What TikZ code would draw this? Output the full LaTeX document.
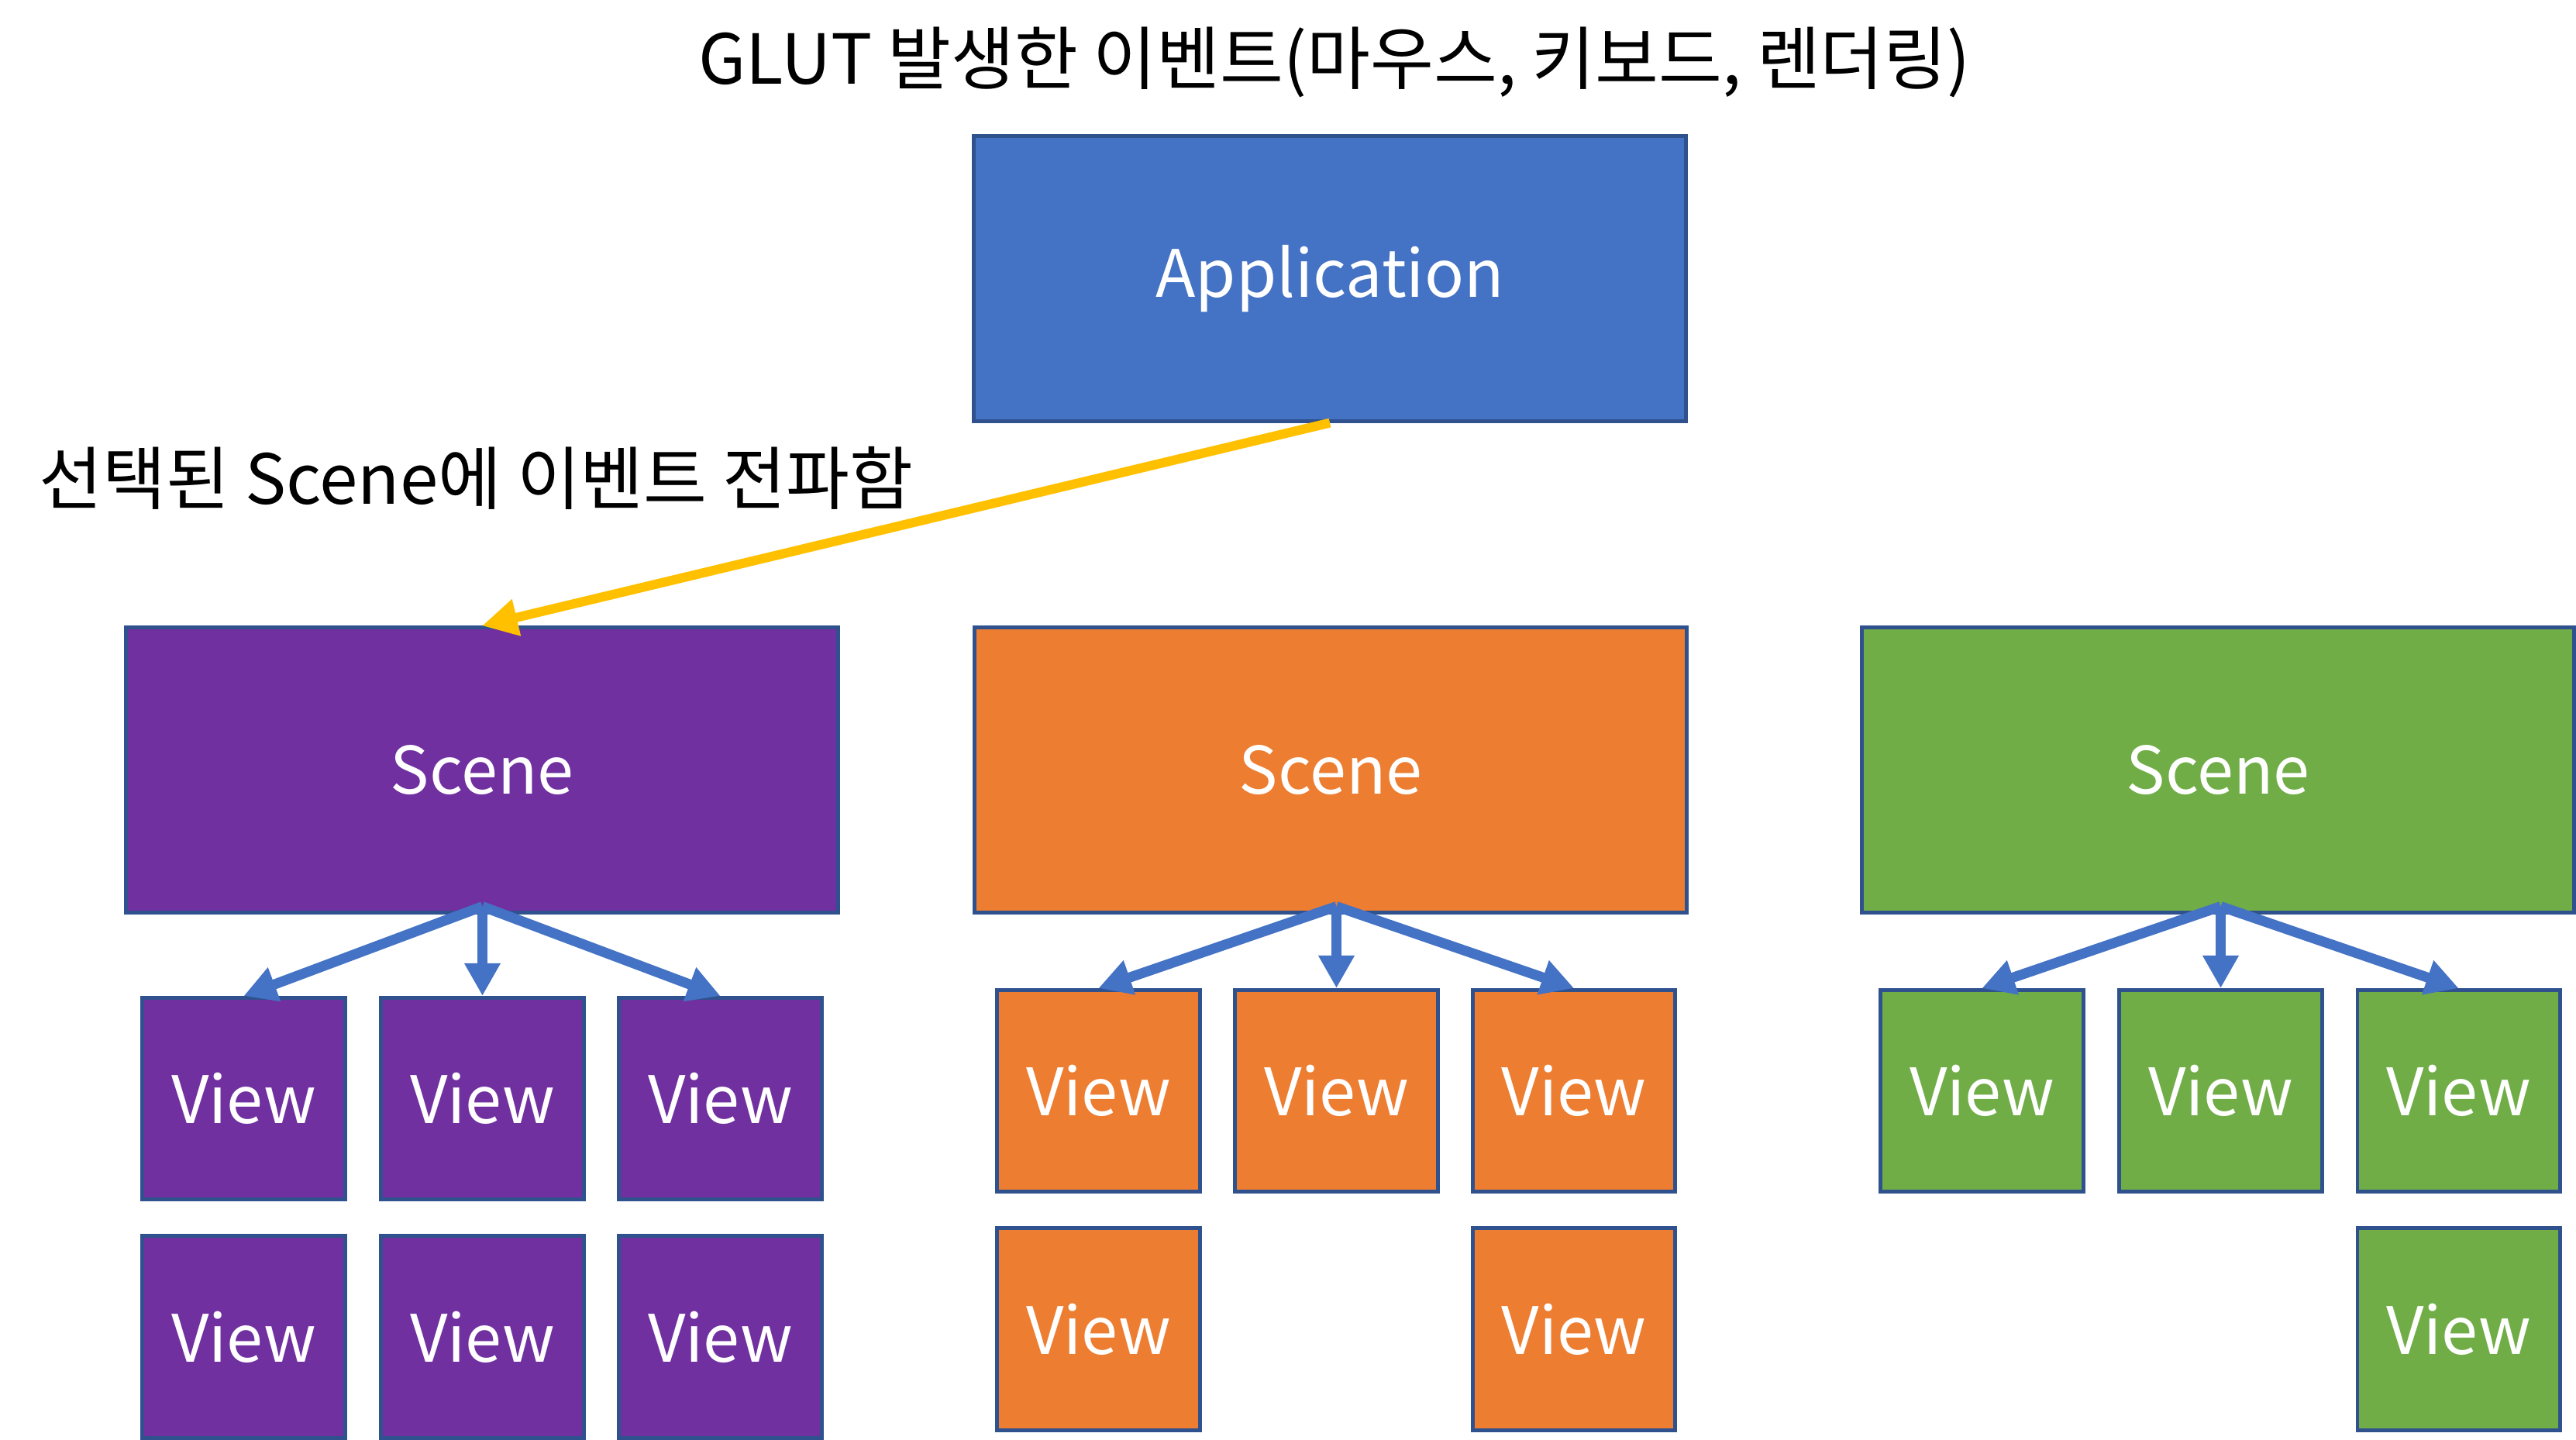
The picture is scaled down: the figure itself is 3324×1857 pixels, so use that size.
\documentclass[tikz,border=0pt]{standalone}
\usepackage{fontspec}
\setmainfont{Noto Sans CJK KR}
\usetikzlibrary{arrows.meta}
\definecolor{appblue}{HTML}{4472C4}
\definecolor{edgeblue}{HTML}{2F528F}
\definecolor{scpurple}{HTML}{7030A0}
\definecolor{scorange}{HTML}{ED7D31}
\definecolor{scgreen}{HTML}{70AD47}
\definecolor{arrowyellow}{HTML}{FFC000}
\begin{document}
\begin{tikzpicture}[x=0.01cm,y=-0.01cm,
  box/.style={draw=edgeblue, line width=1.4pt, inner sep=0pt, text=white,
    font=\fontsize{24}{29}\selectfont},
  bigbox/.style={box, minimum width=9.18cm, minimum height=3.67cm},
  viewbox/.style={box, minimum width=2.61cm, minimum height=2.6cm},
  txt/.style={inner sep=0pt, font=\fontsize{25.3}{30}\selectfont},
  bluearrow/.style={draw=appblue, line width=3.7pt, -{Triangle[length=12pt,width=12.5pt]}},
  yellowarrow/.style={draw=arrowyellow, line width=3.4pt, -{Triangle[length=13pt,width=13pt]}}
]
\useasboundingbox (0,0) rectangle (3324,1857);

% title and label
\node[txt] (title) at (1722,80) {GLUT 발생한 이벤트(마우스, 키보드, 렌더링)};
\node[txt, anchor=west] (lbl) at (50,617) {선택된 Scene에 이벤트 전파함};

% application
\node[bigbox, fill=appblue] (app) at (1716,359.5) {Application};

% scenes
\node[bigbox, fill=scpurple] (s1) at (622,993.5) {Scene};
\node[bigbox, fill=scorange] (s2) at (1717,993.5) {Scene};
\node[bigbox, fill=scgreen] (s3) at (2862,993.5) {Scene};

% purple views
\node[viewbox, fill=scpurple] (p11) at (314.5,1417.5) {View};
\node[viewbox, fill=scpurple] (p12) at (622.5,1417.5) {View};
\node[viewbox, fill=scpurple] (p13) at (929.5,1417.5) {View};
\node[viewbox, fill=scpurple] (p21) at (314.5,1725) {View};
\node[viewbox, fill=scpurple] (p22) at (622.5,1725) {View};
\node[viewbox, fill=scpurple] (p23) at (929.5,1725) {View};

% orange views
\node[viewbox, fill=scorange] (o11) at (1417.5,1407.5) {View};
\node[viewbox, fill=scorange] (o12) at (1724.5,1407.5) {View};
\node[viewbox, fill=scorange] (o13) at (2031,1407.5) {View};
\node[viewbox, fill=scorange] (o21) at (1417.5,1715) {View};
\node[viewbox, fill=scorange] (o23) at (2031,1715) {View};

% green views
\node[viewbox, fill=scgreen] (g11) at (2557.5,1407.5) {View};
\node[viewbox, fill=scgreen] (g12) at (2865.5,1407.5) {View};
\node[viewbox, fill=scgreen] (g13) at (3172.5,1407.5) {View};
\node[viewbox, fill=scgreen] (g23) at (3172.5,1715) {View};

% arrow origins just inside each scene's bottom edge
\coordinate (c1) at ([yshift=0.1cm]p12.north |- s1.south);
\coordinate (c2) at ([yshift=0.1cm]o12.north |- s2.south);
\coordinate (c3) at ([yshift=0.1cm]g12.north |- s3.south);

% yellow arrow
\draw[yellowarrow] (app.south) -- (s1.north);

% blue arrows
\draw[bluearrow] (c1) -- (p11.north);
\draw[bluearrow] (c1) -- (p12.north);
\draw[bluearrow] (c1) -- (p13.north);
\draw[bluearrow] (c2) -- (o11.north);
\draw[bluearrow] (c2) -- (o12.north);
\draw[bluearrow] (c2) -- (o13.north);
\draw[bluearrow] (c3) -- (g11.north);
\draw[bluearrow] (c3) -- (g12.north);
\draw[bluearrow] (c3) -- (g13.north);
\end{tikzpicture}
\end{document}
